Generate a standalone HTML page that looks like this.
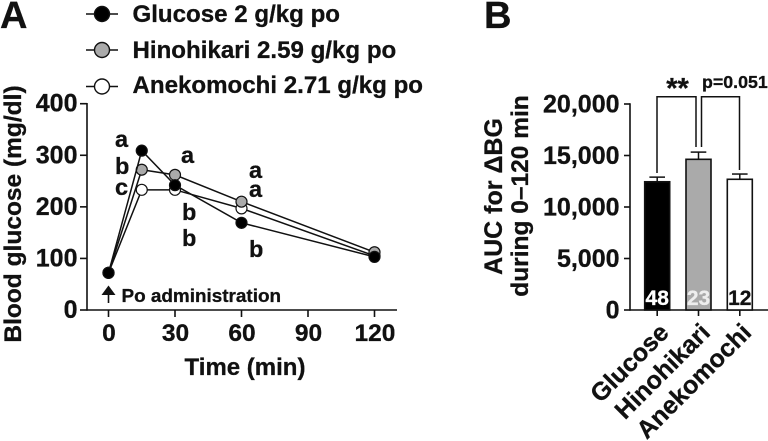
<!DOCTYPE html>
<html>
<head>
<meta charset="utf-8">
<style>
html,body{margin:0;padding:0;background:#fff;width:768px;height:441px;overflow:hidden}
svg{display:block}
text{font-family:"Liberation Sans",sans-serif;font-weight:bold;fill:#111;stroke:#111;stroke-width:.3}
</style>
</head>
<body>
<svg id="fig" width="768" height="441" viewBox="0 0 768 441" xmlns="http://www.w3.org/2000/svg">
  <text x="0" y="28" font-size="38">A</text>
  <text x="484" y="28" font-size="38">B</text>

  <g>
    <g>
      <line x1="86" x2="118" y1="14" y2="14" stroke="#111" stroke-width="1.6"/>
      <circle cx="102" cy="14" r="7.5" fill="#000" stroke="#111" stroke-width="1.4"/>
      <text x="132.5" y="22" font-size="24.1">Glucose 2 g/kg po</text>
    </g>
    <g>
      <line x1="86" x2="118" y1="50" y2="50" stroke="#111" stroke-width="1.6"/>
      <circle cx="102" cy="50" r="7.5" fill="#aaa" stroke="#111" stroke-width="1.4"/>
      <text x="132.5" y="58" font-size="24.1">Hinohikari 2.59 g/kg po</text>
    </g>
    <g>
      <line x1="86" x2="118" y1="86.5" y2="86.5" stroke="#111" stroke-width="1.6"/>
      <circle cx="102" cy="86.5" r="7.5" fill="#fff" stroke="#111" stroke-width="1.4"/>
      <text x="132.5" y="93" font-size="24.1">Anekomochi 2.71 g/kg po</text>
    </g>
  </g>

  <g id="panelA"></g>
  <text transform="translate(21,214) rotate(-90)" text-anchor="middle" font-size="24.5">Blood glucose (mg/dl)</text>
  <text x="245" y="375" text-anchor="middle" font-size="24">Time (min)</text>

  <g font-size="23.5">
    <text x="115" y="147">a</text>
    <text x="115" y="174">b</text>
    <text x="115" y="195">c</text>
    <text x="181" y="163">a</text>
    <text x="182" y="220">b</text>
    <text x="182" y="246">b</text>
    <text x="249" y="178">a</text>
    <text x="249" y="197">a</text>
    <text x="249" y="257">b</text>
  </g>

  <g>
    <line x1="108.5" x2="108.5" y1="292" y2="303" stroke="#111" stroke-width="1.6"/>
    <polygon points="108.5,285.5 101.5,295 115.5,295" fill="#111"/>
    <text x="121.5" y="302" font-size="18.9">Po administration</text>
  </g>

  <g id="panelB"></g>
  <text transform="translate(502,196.5) rotate(-90)" text-anchor="middle" font-size="25">AUC for ΔBG</text>
  <text transform="translate(528,196) rotate(-90)" text-anchor="middle" font-size="24.5">during 0–120 min</text>

  <g fill="none" stroke="#111" stroke-width="1.5">
    <polyline points="657,173 657,96.7 696,96.7 696,147"/>
    <polyline points="701.5,147 701.5,96.7 739.5,96.7 739.5,170"/>
  </g>
  <text x="677.5" y="98" text-anchor="middle" font-size="29">**</text>
  <text x="702" y="88" font-size="17.8">p=0.051</text>
</svg>
<script>
var timePoints = [0, 15, 30, 60, 120];
var glucoseValues = [72, 309, 242, 169, 103];
var hinohikariValues = [72, 272, 262, 210, 112];
var anekomochiValues = [72, 233, 233, 197, 105];
var xTicksA = [0, 30, 60, 90, 120];
var yTicksA = [0, 100, 200, 300, 400];

var barCategories = ['Glucose', 'Hinohikari', 'Anekomochi'];
var aucMeans = [12450, 14630, 12690];
var aucErrors = [450, 700, 510];
var sampleSizes = ['48', '23', '12'];
var yTicksB = [0, 5000, 10000, 15000, 20000];
var yTickLabelsB = ['0', '5,000', '10,000', '15,000', '20,000'];

var NS = 'http://www.w3.org/2000/svg';
function make(parent, tag, attrs, txt) {
  var el = document.createElementNS(NS, tag);
  for (var k in attrs) el.setAttribute(k, attrs[k]);
  if (txt !== undefined) el.textContent = txt;
  parent.appendChild(el);
  return el;
}
function xA(v) { return 108.5 + v * (374.5 - 108.5) / 120; }
function yA(v) { return 310 - v * (310 - 103.7) / 400; }
function yB(v) { return 310 - v * (310 - 104) / 20000; }
function xB(i) { return 657.2 + i * 41.3; }

var a = document.getElementById('panelA');
var b = document.getElementById('panelB');
var ink = '#111';
var el;

el = make(a, 'line', {x1: 87, x2: 87, y1: yA(400) - 0.7, y2: yA(0) + 0.7, stroke: ink, 'stroke-width': 1.6});


el = make(a, 'line', {x1: 87, x2: 397, y1: yA(0), y2: yA(0), stroke: ink, 'stroke-width': 1.6});



yTicksA.forEach(function (t) {
  el = make(a, 'line', {x1: 80, x2: 87, y1: yA(t), y2: yA(t), stroke: ink, 'stroke-width': 1.6});
  
  
  el = make(a, 'text', {x: 77.5, y: yA(t) + 8, 'text-anchor': 'end', 'font-size': 25}, String(t));
  
  
});
xTicksA.forEach(function (t) {
  el = make(a, 'line', {x1: xA(t), x2: xA(t), y1: 310, y2: 317, stroke: ink, 'stroke-width': 1.6});
  
  
  el = make(a, 'text', {x: xA(t) + 0.5, y: 341, 'text-anchor': 'middle', 'font-size': 24.5}, String(t));
  
  
});

function drawSeries(values, fill, name) {
  var pts = values.map(function (v, i) { return xA(timePoints[i]) + ',' + yA(v); }).join(' ');
  var line = make(a, 'polyline', {points: pts, fill: 'none', stroke: ink, 'stroke-width': 1.5});
  
  
  values.forEach(function (v, i) {
    var p = make(a, 'circle', {cx: xA(timePoints[i]), cy: yA(v), r: 5.5, fill: fill, stroke: ink, 'stroke-width': 1.2});
    
    
  });
}
drawSeries(anekomochiValues, '#fff', 'anekomochi');
drawSeries(hinohikariValues, '#aaa', 'hinohikari');
drawSeries(glucoseValues, '#000', 'glucose');

el = make(b, 'line', {x1: 630, x2: 630, y1: yB(20000) - 0.7, y2: yB(0) + 0.7, stroke: ink, 'stroke-width': 1.6});


el = make(b, 'line', {x1: 630, x2: 768, y1: yB(0), y2: yB(0), stroke: ink, 'stroke-width': 1.6});



yTicksB.forEach(function (t, i) {
  el = make(b, 'line', {x1: 624, x2: 630, y1: yB(t), y2: yB(t), stroke: ink, 'stroke-width': 1.6});
  
  
  el = make(b, 'text', {x: 619.5, y: yB(t) + 8.5, 'text-anchor': 'end', 'font-size': 25}, yTickLabelsB[i]);
  
  
});

var barFills = ['#000', '#aaa', '#fff'];
var countFills = ['#fff', '#eee', '#111'];
barCategories.forEach(function (c, i) {
  var x = xB(i);
  var top = yB(aucMeans[i]);
  var errTop = yB(aucMeans[i] + aucErrors[i]);
  el = make(b, 'line', {x1: x, x2: x, y1: top, y2: errTop, stroke: ink, 'stroke-width': 1.5});
  
  
  el = make(b, 'line', {x1: x - 7.8, x2: x + 7.8, y1: errTop, y2: errTop, stroke: ink, 'stroke-width': 1.5});
  
  
  el = make(b, 'rect', {x: x - 12.5, y: top, width: 25, height: yB(0) - top, fill: barFills[i], stroke: ink, 'stroke-width': 1.6});
  
  
  el = make(b, 'text', {x: x, y: 305, 'text-anchor': 'middle', 'font-size': 21}, sampleSizes[i]);
  el.style.fill = countFills[i];
  el.style.stroke = countFills[i];
  
  
  el = make(b, 'line', {x1: x, x2: x, y1: 310, y2: 316, stroke: ink, 'stroke-width': 1.6});
  
  
  el = make(b, 'text', {transform: 'translate(' + (x + 13) + ',334) rotate(-45)', 'text-anchor': 'end', 'font-size': 25}, c);
  
  
});
</script>
</body>
</html>
